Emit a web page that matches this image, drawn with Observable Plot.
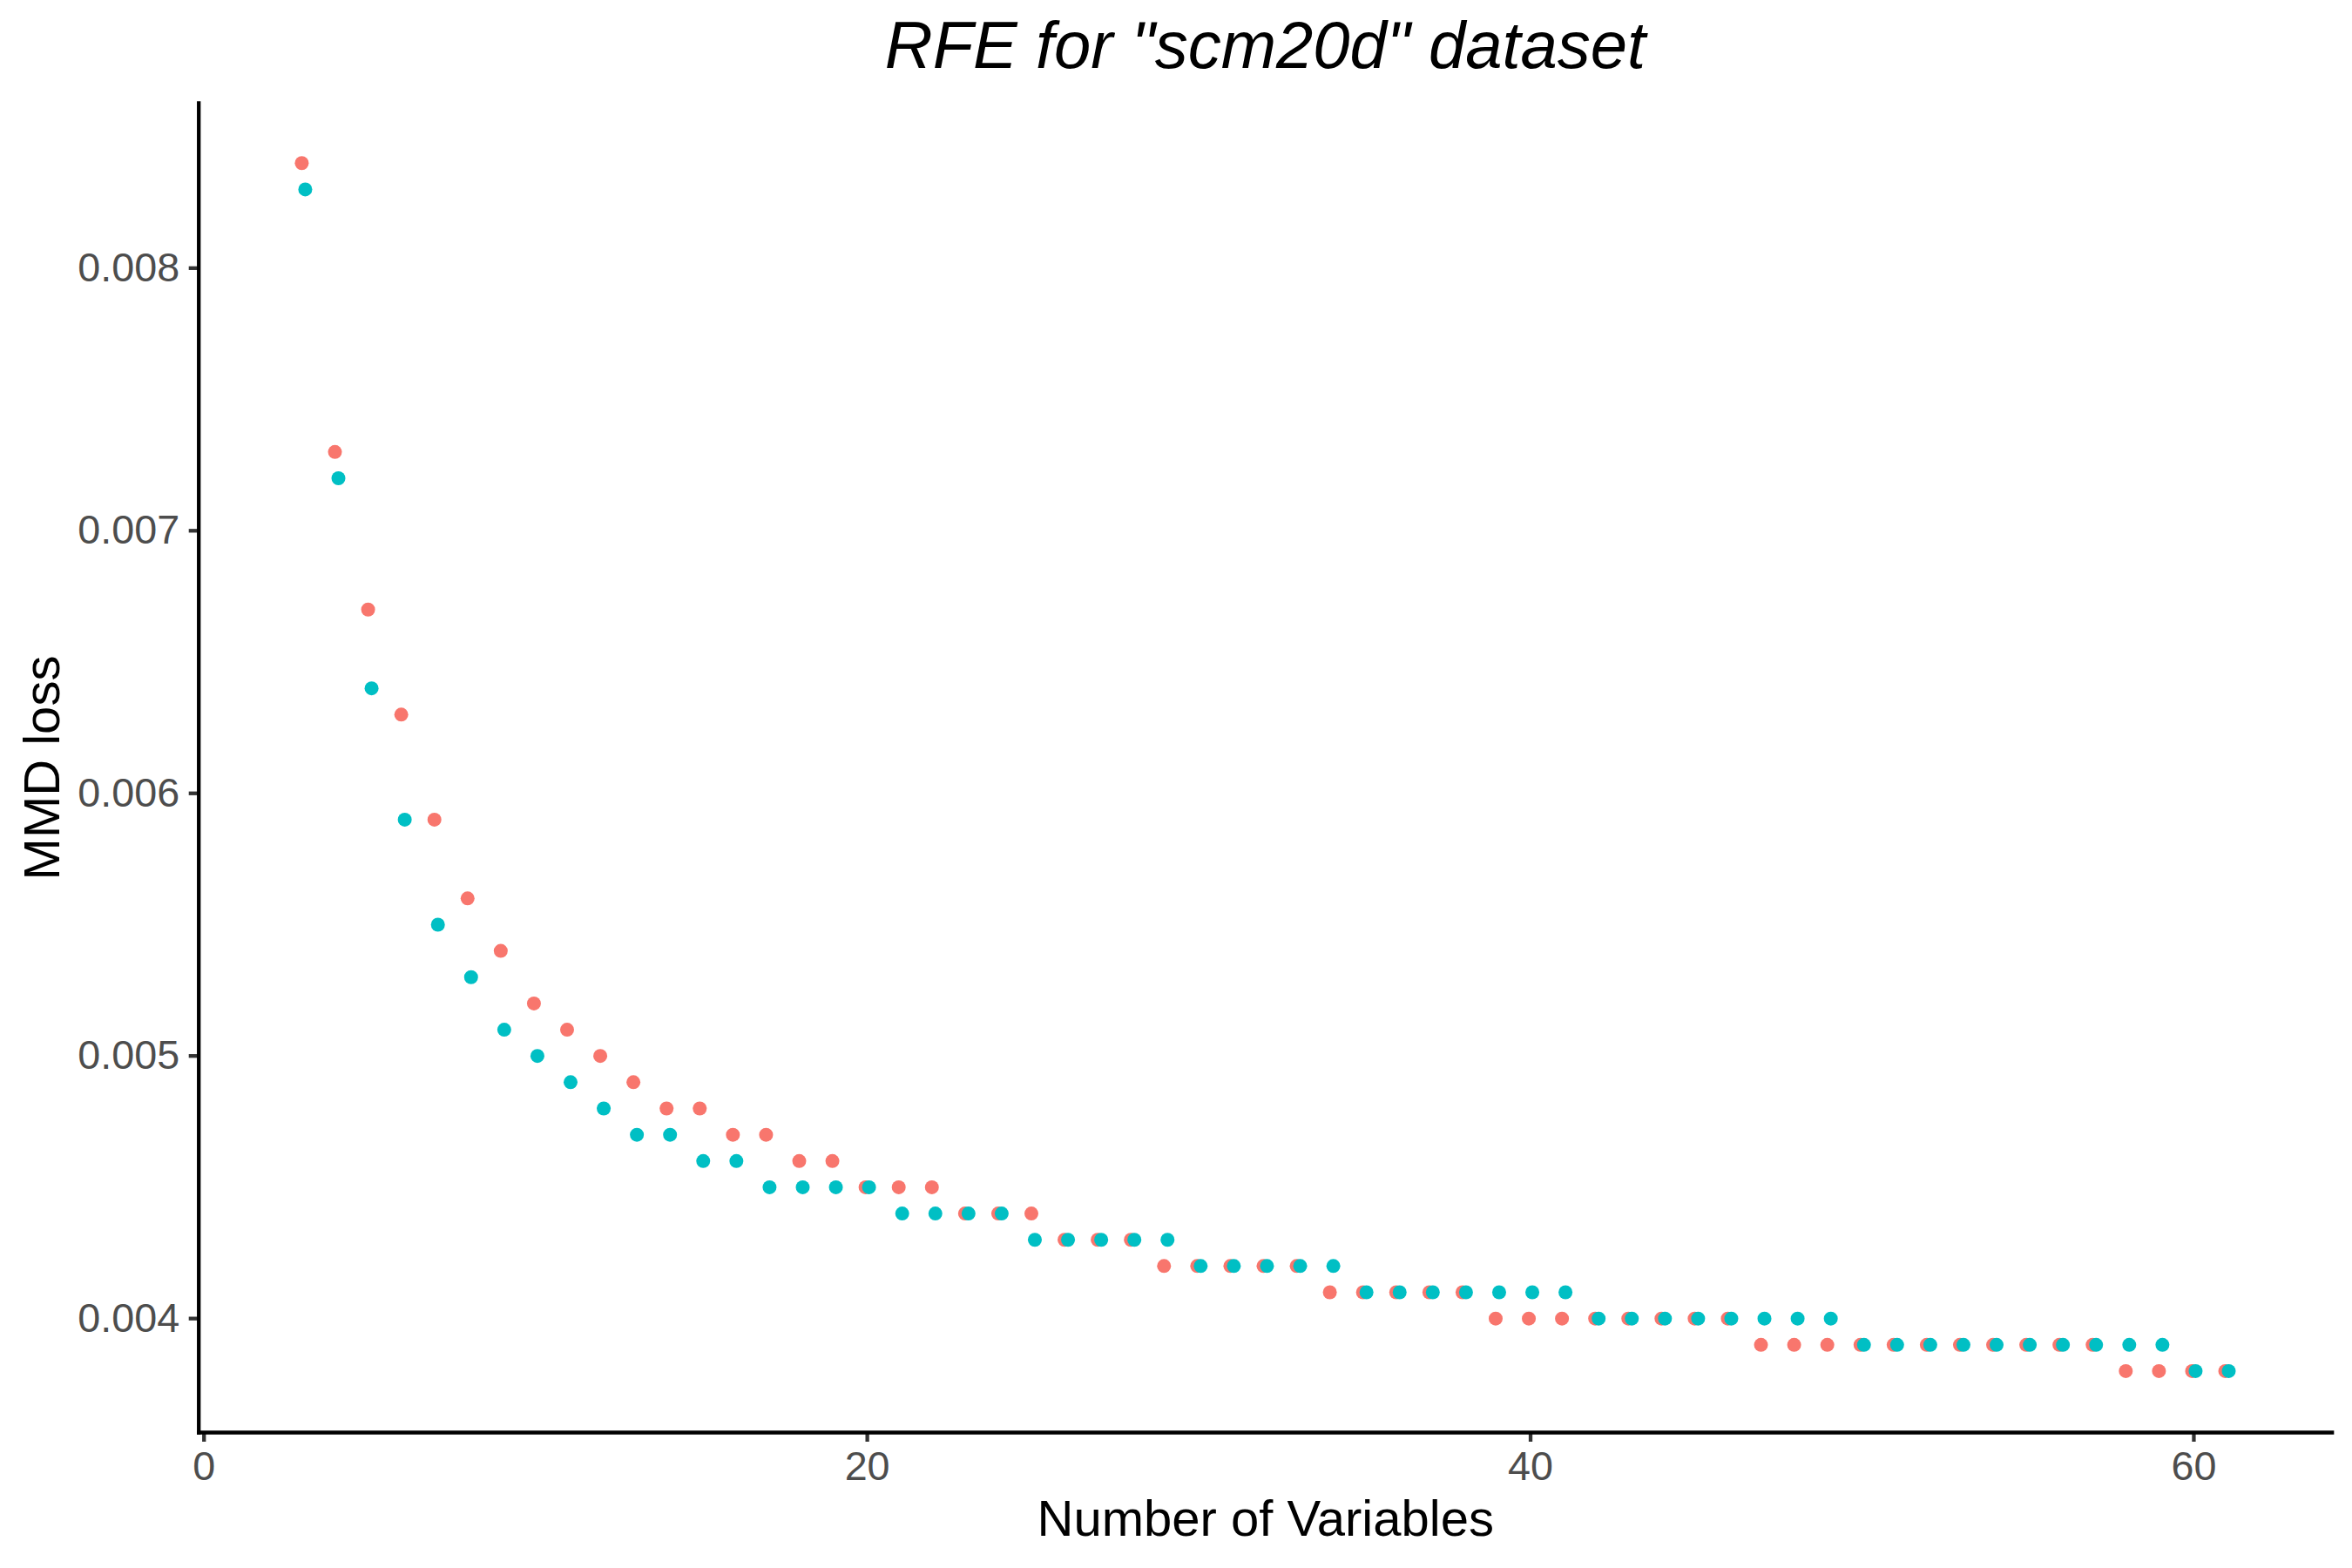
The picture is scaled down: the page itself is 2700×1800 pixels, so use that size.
<!DOCTYPE html>
<html>
<head>
<meta charset="utf-8">
<script src="https://cdn.jsdelivr.net/npm/d3@7"></script>
<script src="https://cdn.jsdelivr.net/npm/@observablehq/plot@0.6"></script>
<style>
  html, body { margin: 0; padding: 0; background: #ffffff; }
  #wrap { position: relative; width: 2700px; height: 1800px; background: #ffffff; overflow: hidden; }
  #title {
    position: absolute; top: 14px; left: 228px; width: 2449px; text-align: center;
    font-family: "Liberation Sans", Arial, sans-serif; font-style: italic;
    font-size: 76px; line-height: 76px; color: #000000; white-space: nowrap;
  }
  #chart { position: absolute; top: 100px; left: 0; }
</style>
</head>
<body>
<div id="wrap">
  <div id="title">RFE for "scm20d" dataset</div>
  <div id="chart"></div>
</div>
<script>
// Number of variables (x)
const numVars = [3, 4, 5, 6, 7, 8, 9, 10, 11, 12, 13, 14, 15, 16, 17, 18, 19, 20,
  21, 22, 23, 24, 25, 26, 27, 28, 29, 30, 31, 32, 33, 34, 35, 36, 37, 38, 39, 40,
  41, 42, 43, 44, 45, 46, 47, 48, 49, 50, 51, 52, 53, 54, 55, 56, 57, 58, 59, 60, 61];

// MMD loss, first series (red)
const lossRed = [0.0084, 0.0073, 0.0067, 0.0063, 0.0059, 0.0056, 0.0054, 0.0052, 0.0051, 0.0050,
  0.0049, 0.0048, 0.0048, 0.0047, 0.0047, 0.0046, 0.0046, 0.0045, 0.0045, 0.0045,
  0.0044, 0.0044, 0.0044, 0.0043, 0.0043, 0.0043, 0.0042, 0.0042, 0.0042, 0.0042,
  0.0042, 0.0041, 0.0041, 0.0041, 0.0041, 0.0041, 0.0040, 0.0040, 0.0040, 0.0040,
  0.0040, 0.0040, 0.0040, 0.0040, 0.0039, 0.0039, 0.0039, 0.0039, 0.0039, 0.0039,
  0.0039, 0.0039, 0.0039, 0.0039, 0.0039, 0.0038, 0.0038, 0.0038, 0.0038];

// MMD loss, second series (teal)
const lossTeal = [0.0083, 0.0072, 0.0064, 0.0059, 0.0055, 0.0053, 0.0051, 0.0050, 0.0049, 0.0048,
  0.0047, 0.0047, 0.0046, 0.0046, 0.0045, 0.0045, 0.0045, 0.0045, 0.0044, 0.0044,
  0.0044, 0.0044, 0.0043, 0.0043, 0.0043, 0.0043, 0.0043, 0.0042, 0.0042, 0.0042,
  0.0042, 0.0042, 0.0041, 0.0041, 0.0041, 0.0041, 0.0041, 0.0041, 0.0041, 0.0040,
  0.0040, 0.0040, 0.0040, 0.0040, 0.0040, 0.0040, 0.0040, 0.0039, 0.0039, 0.0039,
  0.0039, 0.0039, 0.0039, 0.0039, 0.0039, 0.0039, 0.0039, 0.0038, 0.0038];

const xTicks = [0, 20, 40, 60];
const yTicks = [0.004, 0.005, 0.006, 0.007, 0.008];
const xTitle = "Number of Variables";
const yTitle = "MMD loss";

const redData = numVars.map((n, i) => ({n, loss: lossRed[i]}));
const tealData = numVars.map((n, i) => ({n, loss: lossTeal[i]}));

const tickColor = "#333333";
const labelColor = "#4D4D4D";

const chart = Plot.plot({
  width: 2700,
  height: 1700,
  marginTop: 18,
  marginBottom: 156,
  marginLeft: 227.7,
  marginRight: 23.3,
  style: {fontFamily: "Liberation Sans, Arial, sans-serif", background: "#ffffff", overflow: "visible"},
  x: {domain: [-0.158, 64.17]},
  y: {domain: [0.003566, 0.008628]},
  marks: [
    Plot.axisX({ticks: xTicks, tickSize: 11, tickPadding: 10, stroke: tickColor, strokeWidth: 4.3,
      fill: labelColor, fontSize: 46.7, label: null, tickFormat: d3.format("d")}),
    Plot.axisY({ticks: yTicks, tickSize: 11, tickPadding: 11, stroke: tickColor, strokeWidth: 4.3,
      fill: labelColor, fontSize: 46.7, label: null, tickFormat: d3.format(".3f")}),
    Plot.dot(redData, {x: "n", y: "loss", r: 8, fill: "#F8766D", dx: -2}),
    Plot.dot(tealData, {x: "n", y: "loss", r: 8, fill: "#00BFC4", dx: 2}),
    Plot.frame({anchor: "left", stroke: "#000000", strokeWidth: 4.3, strokeLinecap: "square"}),
    Plot.frame({anchor: "bottom", stroke: "#000000", strokeWidth: 4.3, strokeLinecap: "square"}),
    Plot.text([xTitle], {text: d => d, frameAnchor: "bottom", textAnchor: "middle", lineAnchor: "bottom", dy: 118,
      fontSize: 58, fill: "#000000"}),
    Plot.text([yTitle], {text: d => d, frameAnchor: "left", textAnchor: "middle", lineAnchor: "bottom", rotate: -90,
      dx: -160.7, fontSize: 58, fill: "#000000"})
  ]
});
document.getElementById("chart").appendChild(chart);
</script>
</body>
</html>
